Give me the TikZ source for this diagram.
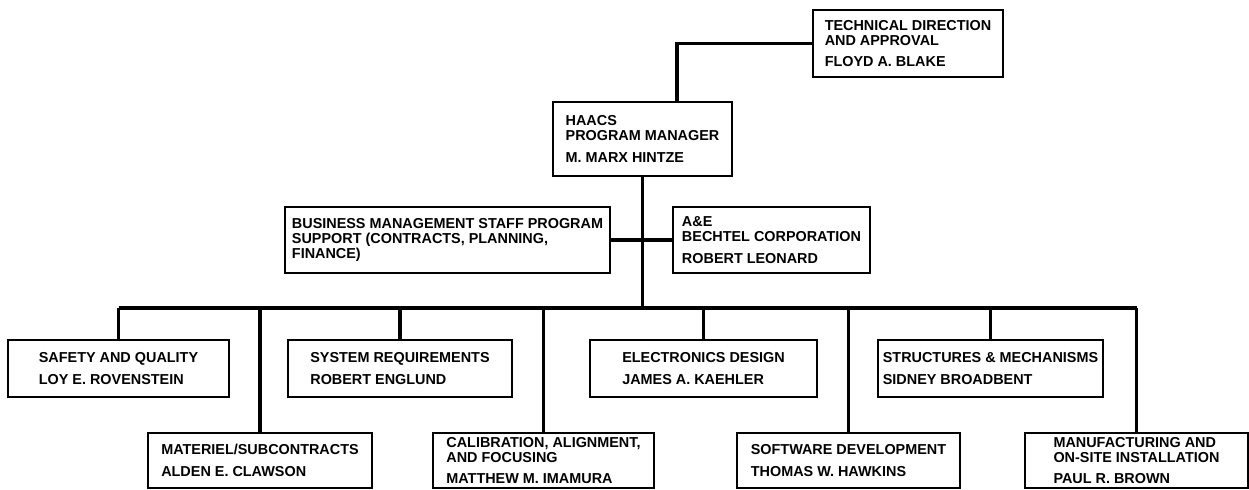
\documentclass[tikz,border=0pt]{standalone}
\usepackage{fontspec}
\setmainfont{Liberation Sans}
\usetikzlibrary{positioning,calc}

\begin{document}
\begin{tikzpicture}[
						x=0.02cm, y=-0.02cm,
						box/.style={draw, line width=0.8pt, align=left, inner sep=0pt, fill=white,
							font=\fontsize{8.2}{8.5}\selectfont\bfseries, minimum height=1.14cm},
						unit/.style={box, minimum height=1.14cm},
						link/.style={line width=1.8pt}
					]
						\useasboundingbox (0,0) rectangle (1249,490);

						\node[box, minimum width=3.8cm, minimum height=1.34cm] (tech) at (908,43.5)
							{TECHNICAL DIRECTION\\AND APPROVAL\\[3.7pt]FLOYD A. BLAKE};
						\node[box, minimum width=3.58cm, minimum height=1.48cm] (haacs) at (642.5,139)
							{HAACS\\PROGRAM MANAGER\\[3.7pt]M. MARX HINTZE};
						\node[box, minimum width=6.5cm, minimum height=1.32cm] (bms) at (447.5,240)
							{BUSINESS MANAGEMENT STAFF PROGRAM\\SUPPORT (CONTRACTS, PLANNING,\\FINANCE)};
						\node[box, minimum width=3.94cm, minimum height=1.32cm] (ae) at (771.5,240)
							{A\&E\\BECHTEL CORPORATION\\[3.7pt]ROBERT LEONARD};

						% upper row
						\node[unit, minimum width=4.42cm] (safety) at (118.5,368.5)
							{SAFETY AND QUALITY\\[3.7pt]LOY E. ROVENSTEIN};
						\node[unit, minimum width=4.48cm] (sysreq) at (400,368.5)
							{SYSTEM REQUIREMENTS\\[3.7pt]ROBERT ENGLUND};
						\node[unit, minimum width=4.54cm] (elec) at (703.5,368.5)
							{ELECTRONICS DESIGN\\[3.7pt]JAMES A. KAEHLER};
						\node[unit, minimum width=4.5cm] (struct) at (990.5,368.5)
							{STRUCTURES \& MECHANISMS\\[3.7pt]SIDNEY BROADBENT};

						% lower row
						\node[unit, minimum width=4.48cm, minimum height=1.1cm] (materiel) at (260,460.5)
							{MATERIEL/SUBCONTRACTS\\[3.7pt]ALDEN E. CLAWSON};
						\node[unit, minimum width=4.42cm, minimum height=1.1cm] (calib) at (543.5,460.5)
							{CALIBRATION, ALIGNMENT,\\AND FOCUSING\\[3.7pt]MATTHEW M. IMAMURA};
						\node[unit, minimum width=4.46cm, minimum height=1.1cm] (soft) at (848.5,460.5)
							{SOFTWARE DEVELOPMENT\\[3.7pt]THOMAS W. HAWKINS};
						\node[unit, minimum width=4.46cm, minimum height=1.1cm] (manuf) at (1136.5,460.5)
							{MANUFACTURING AND\\ON-SITE INSTALLATION\\[3.7pt]PAUL R. BROWN};

						\coordinate (busL) at (118.5,308);
						\coordinate (busR) at (1136.5,308);

						\draw[link] (tech.west) -| ([xshift=6.9mm]haacs.north);
						\draw[link] (haacs.south) -- (haacs.south |- busL);
						\draw[link] (bms.east) -- (ae.west);
						\draw[link] (busL) -- (busR);

						\foreach \n in {safety,sysreq,elec,struct,materiel,calib,soft,manuf}
							\draw[link] (\n.north |- busL) -- (\n.north);
					\end{tikzpicture}
\end{document}
